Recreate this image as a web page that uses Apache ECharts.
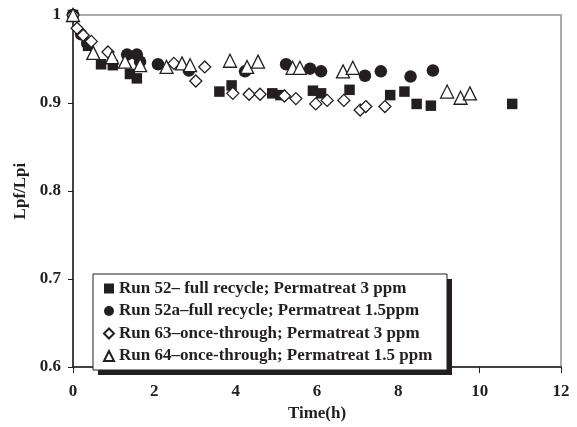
<!DOCTYPE html>
<html>
<head>
<meta charset="utf-8">
<script src="https://cdn.jsdelivr.net/npm/echarts@6/dist/echarts.min.js"></script>
<style>html,body{margin:0;padding:0;background:#fff;}#c{width:577px;height:427px;}</style>
</head>
<body>
<div id="c"></div>
<script>
var seriesNames = ['Run 52\u2013 full recycle; Permatreat 3 ppm', 'Run 52a\u2013full recycle; Permatreat 1.5ppm', 'Run 63\u2013once-through; Permatreat 3 ppm', 'Run 64\u2013once-through; Permatreat 1.5 ppm'];
var run52T = [0, 0.37, 0.69, 0.98, 1.4, 1.57, 3.6, 3.9, 4.9, 5.1, 5.9, 6.1, 6.8, 7.8, 8.15, 8.45, 8.8, 10.8];
var run52V = [1.0, 0.965, 0.944, 0.943, 0.933, 0.928, 0.913, 0.92, 0.911, 0.909, 0.914, 0.911, 0.915, 0.909, 0.913, 0.899, 0.897, 0.899];
var run52aT = [0, 0.2, 0.35, 1.33, 1.57, 1.65, 2.09, 2.85, 4.23, 5.24, 5.83, 6.1, 7.18, 7.57, 8.3, 8.85];
var run52aV = [1.0, 0.978, 0.968, 0.955, 0.955, 0.947, 0.944, 0.937, 0.936, 0.944, 0.939, 0.936, 0.931, 0.936, 0.930, 0.937];
var run63T = [0, 0.1, 0.25, 0.45, 0.86, 2.48, 3.02, 3.24, 3.93, 4.33, 4.6, 5.2, 5.48, 5.97, 6.25, 6.66, 7.06, 7.2, 7.67];
var run63V = [1.0, 0.985, 0.977, 0.97, 0.958, 0.945, 0.925, 0.941, 0.911, 0.91, 0.91, 0.908, 0.905, 0.899, 0.903, 0.903, 0.892, 0.896, 0.896];
var run64T = [0, 0.5, 0.96, 1.28, 1.65, 2.3, 2.68, 2.88, 3.86, 4.28, 4.55, 5.4, 5.58, 6.64, 6.88, 9.2, 9.53, 9.76];
var run64V = [1.0, 0.957, 0.952, 0.947, 0.943, 0.941, 0.945, 0.943, 0.948, 0.941, 0.947, 0.94, 0.94, 0.936, 0.94, 0.913, 0.906, 0.911];

function pairs(t, v) { return t.map(function (x, i) { return [x, v[i]]; }); }
var ink = '#231f20';
var font = '"Liberation Serif", "Times New Roman", serif';
var chart = echarts.init(document.getElementById('c'), null, {renderer: 'canvas'});
chart.setOption({
  animation: false,
  backgroundColor: '#fff',
  grid: {left: 73, right: 16, top: 15, bottom: 50, show: true, borderColor: '#aaa', borderWidth: 2},
  xAxis: {
    type: 'value', min: 0, max: 12, interval: 2,
    name: 'Time(h)', nameLocation: 'middle', nameGap: 37,
    nameTextStyle: {fontFamily: font, fontWeight: 'bold', fontSize: 17, color: ink},
    axisLine: {lineStyle: {color: ink, width: 1.5}},
    axisTick: {inside: false, length: 6, lineStyle: {color: ink}},
    axisLabel: {fontFamily: font, fontWeight: 'bold', fontSize: 17, color: ink, margin: 16},
    splitLine: {show: false}
  },
  yAxis: {
    type: 'value', min: 0.6, max: 1, interval: 0.1,
    name: 'Lpf/Lpi', nameLocation: 'middle', nameGap: 41, nameRotate: 90,
    nameTextStyle: {fontFamily: font, fontWeight: 'bold', fontSize: 17, color: ink},
    axisLine: {lineStyle: {color: ink, width: 1.5}},
    axisTick: {inside: false, length: 5, lineStyle: {color: ink}},
    axisLabel: {fontFamily: font, fontWeight: 'bold', fontSize: 17, color: ink, margin: 12},
    splitLine: {show: false}
  },
  graphic: [
    {type: 'rect', z: 3, shape: {x: 98, y: 279, width: 354, height: 96}, style: {fill: ink}},
    {type: 'rect', z: 3, shape: {x: 93, y: 274, width: 354, height: 96}, style: {fill: '#fff', stroke: ink, lineWidth: 1}}
  ],
  legend: {
    z: 10,
    orient: 'vertical', left: 98, top: 275,
    itemWidth: 10, itemHeight: 10, itemGap: 5.5,
    textStyle: {fontFamily: font, fontWeight: 'bold', fontSize: 17, color: ink},
    data: seriesNames
  },
  series: [
    {name: seriesNames[0], type: 'scatter', symbol: 'rect', symbolSize: 10.5, data: pairs(run52T, run52V),
      itemStyle: {color: ink, opacity: 1}},
    {name: seriesNames[1], type: 'scatter', symbol: 'circle', symbolSize: 12.5, data: pairs(run52aT, run52aV),
      itemStyle: {color: ink, opacity: 1}},
    {name: seriesNames[2], type: 'scatter', symbol: 'diamond', symbolSize: 12, data: pairs(run63T, run63V),
      itemStyle: {color: '#fff', borderColor: ink, borderWidth: 1.3, opacity: 1}},
    {name: seriesNames[3], type: 'scatter', symbol: 'triangle', symbolSize: 13, data: pairs(run64T, run64V),
      itemStyle: {color: '#fff', borderColor: ink, borderWidth: 1.3, opacity: 1}}
  ]
});
</script>
</body>
</html>
